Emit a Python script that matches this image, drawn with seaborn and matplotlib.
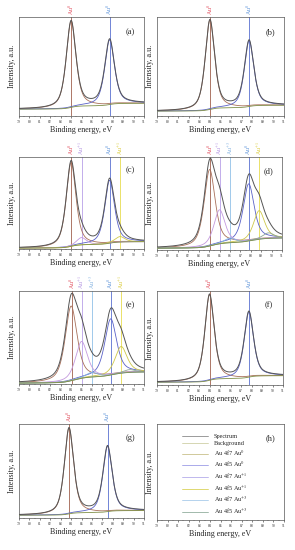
import numpy as np
import seaborn as sns
import matplotlib.pyplot as plt
from matplotlib.lines import Line2D

sns.set_style("ticks")
plt.rcParams['font.family'] = ['Liberation Serif', 'DejaVu Serif']
plt.rcParams['mathtext.fontset'] = 'stix'

# components: Au4f7 Au0, Au4f5 Au0, Au4f7 Au+1, Au4f5 Au+1, Au4f7 Au+3, Au4f5 Au+3
comp_names = ['Au 4f7 Au$^{0}$', 'Au 4f5 Au$^{0}$', 'Au 4f7 Au$^{+1}$',
              'Au 4f5 Au$^{+1}$', 'Au 4f7 Au$^{+3}$', 'Au 4f5 Au$^{+3}$']
comp_colors = ['#a8705a', '#5a62c8', '#c49ade', '#cfc84a', '#86b4e2', '#8fa898']
legend_colors = ['#c9c08a', '#9c9ce6', '#b4acea', '#d9d25a', '#a8cbea', '#92ae9e']

panel_labels = ['(a)', '(b)', '(c)', '(d)', '(e)', '(f)', '(g)']
peak_pos = [
    [84.0, 87.7],
    [84.0, 87.7],
    [84.0, 87.7, 85.0, 88.7],
    [84.05, 87.8, 85.0, 88.8, 86.0, 89.7],
    [84.0, 87.8, 85.0, 88.8, 86.0, 89.6],
    [84.0, 87.75],
    [83.8, 87.5],
]
peak_amp = [
    [0.88, 0.66],
    [0.91, 0.67],
    [0.92, 0.69, 0.08, 0.06],
    [0.83, 0.62, 0.37, 0.31, 0.05, 0.06],
    [0.81, 0.61, 0.40, 0.29, 0.05, 0.03],
    [0.92, 0.70],
    [0.92, 0.70],
]
peak_fwhm = [1.1, 1.05, 1.1, 1.25, 1.35, 1.05, 1.05]
bg_low = [0.07, 0.05, 0.01, 0.02, 0.01, 0.03, 0.03]
bg_high = [0.13, 0.11, 0.08, 0.13, 0.13, 0.10, 0.08]

# vertical marker lines
vline_pos = [
    [84.0, 87.7],
    [84.0, 87.7],
    [84.0, 85.0, 87.7, 88.7],
    [84.1, 85.0, 86.0, 87.8, 88.8],
    [84.1, 85.0, 86.0, 87.8, 88.8],
    [84.0, 87.8],
    [83.8, 87.5],
]
vline_kind = [
    ['0a', '0b'],
    ['0a', '0b'],
    ['0a', '1a', '0b', '1b'],
    ['0a', '1a', '3a', '0b', '1b'],
    ['0a', '1a', '3a', '0b', '1b'],
    ['0a', '0b'],
    ['0a', '0b'],
]
vline_color = {'0a': '#a0604e', '0b': '#5a70d0', '1a': '#b8a0e8', '1b': '#e6dc50', '3a': '#90c0e8'}
vtext_color = {'0a': '#e04858', '0b': '#5890d8', '1a': '#b090e0', '1b': '#d8c830', '3a': '#80b0e0'}
vtext = {'0a': 'Au$^{0}$', '0b': 'Au$^{0}$', '1a': 'Au$^{+1}$', '1b': 'Au$^{+1}$', '3a': 'Au$^{+3}$'}

energy = np.linspace(79, 91, 600)


def pseudo_voigt(x, c, a, w, eta=0.6):
    hw = w / 2
    lor = 1 / (1 + ((x - c) / hw) ** 2)
    gau = np.exp(-np.log(2) * ((x - c) / hw) ** 2)
    return a * (eta * lor + (1 - eta) * gau)


W, H = 295, 550
boxes = [
    (19, 17, 125, 99), (157, 17, 127, 99),
    (19, 157, 125, 92), (157, 157, 125, 93),
    (19, 291, 125, 93), (157, 291, 126, 94),
    (19, 424, 125, 94), (157, 424, 127, 96),
]

fig = plt.figure(figsize=(2.95, 5.5), dpi=100)
axes = [fig.add_axes([x / W, 1 - (y + h) / H, w / W, h / H]) for x, y, w, h in boxes]


def style_axis(ax):
    ax.set_xlim(79, 91)
    ax.set_ylim(0, 1.01)
    ax.set_xticks(range(79, 92))
    ax.set_xticklabels([str(v) for v in range(79, 92)], fontsize=2.6)
    ax.set_xticks(np.arange(79.5, 91, 1), minor=True)
    ax.tick_params(axis='x', which='major', length=1.6, width=0.4, pad=1, direction='out')
    ax.tick_params(axis='x', which='minor', length=0.9, width=0.3, direction='out')
    ax.set_yticks([])
    ax.set_xlabel('Binding energy, eV', fontsize=5.8, labelpad=1.5)
    ax.set_ylabel('Intensity, a.u.', fontsize=5.8, labelpad=2)
    for s in ax.spines.values():
        s.set_linewidth(0.5)
        s.set_color('#555555')


for i in range(7):
    ax = axes[i]
    comps = [pseudo_voigt(energy, c, a, peak_fwhm[i]) for c, a in zip(peak_pos[i], peak_amp[i])]
    total = np.sum(comps, axis=0)
    cum = np.cumsum(total)
    bg = bg_low[i] + (bg_high[i] - bg_low[i]) * cum / cum[-1]
    for k in range(len(vline_pos[i])):
        kind = vline_kind[i][k]
        ax.axvline(vline_pos[i][k], color=vline_color[kind], lw=0.6, zorder=1)
        ax.text(vline_pos[i][k], 1.02, vtext[kind], transform=ax.get_xaxis_transform(),
                rotation=90, fontsize=4.2, color=vtext_color[kind], ha='center', va='bottom')
    for j, comp in enumerate(comps):
        sns.lineplot(x=energy, y=comp + bg, ax=ax, color=comp_colors[j], lw=0.6, zorder=3)
    sns.lineplot(x=energy, y=bg, ax=ax, color='#7f8f48', lw=0.6, zorder=4)
    sns.lineplot(x=energy, y=total + bg, ax=ax, color='#555555', lw=0.7, zorder=5)
    style_axis(ax)
    ax.text(0.89, 0.83, panel_labels[i], transform=ax.transAxes, fontsize=6, ha='center')

ax = axes[7]
style_axis(ax)
ax.text(0.89, 0.83, '(h)', transform=ax.transAxes, fontsize=6, ha='center')
handles = [Line2D([], [], color='#8a8a8a', lw=0.6), Line2D([], [], color='#cfd0a6', lw=0.6)]
handles += [Line2D([], [], color=c, lw=0.6) for c in legend_colors]
labels = ['Spectrum', 'Background'] + comp_names
ax.legend(handles, labels, loc='upper left', bbox_to_anchor=(0.17, 0.93), frameon=False,
          fontsize=4.5, handlelength=4.2, labelspacing=0.3, handletextpad=0.9, borderpad=0)

fig.savefig('out.png', dpi=100)
